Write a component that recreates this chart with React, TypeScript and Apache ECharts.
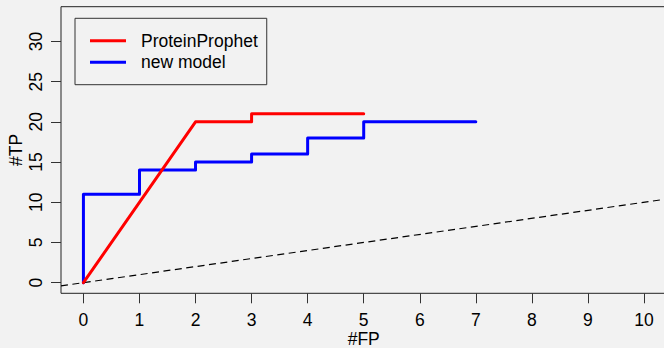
import React, { useEffect, useRef } from "react";
import * as echarts from "echarts";

const proteinProphetFP = [0, 2, 3, 3, 5];
const proteinProphetTP = [0, 20, 20, 21, 21];
const newModelFP = [0, 0, 1, 1, 2, 2, 3, 3, 4, 4, 5, 5, 7];
const newModelTP = [0, 11, 11, 14, 14, 15, 15, 16, 16, 18, 18, 20, 20];
const xTicks = [0, 1, 2, 3, 4, 5, 6, 7, 8, 9, 10];
const yTicks = [0, 5, 10, 15, 20, 25, 30];
const xLim = [0, 10];
const yLim = [0, 33];
const diagonal = [-0.4, 10.4];

const FONT = "'Liberation Sans', Arial, Helvetica, sans-serif";
const FS = 17.5;

export default function App() {
  const ref = useRef<HTMLDivElement>(null);
  useEffect(() => {
    if (!ref.current) return;
    const chart = echarts.init(ref.current, null, { renderer: "svg" });
    const padX = (xLim[1] - xLim[0]) * 0.04;
    const padY = (yLim[1] - yLim[0]) * 0.04;
    chart.setOption({
      animation: false,
      backgroundColor: "#f2f2f2",
      textStyle: { fontFamily: FONT },
      grid: {
        show: true,
        left: 61,
        top: 6.7,
        width: 605.4,
        height: 286.6,
        outerBoundsMode: "none",
        containLabel: false,
        borderColor: "#222",
        borderWidth: 1,
        backgroundColor: "transparent",
      },
      legend: {
        data: ["ProteinProphet", "new model"],
        orient: "vertical",
        left: 75,
        top: 18.3,
        icon: "rect",
        itemWidth: 36,
        itemHeight: 3,
        itemGap: 3.4,
        padding: [13.5, 9, 13.5, 15],
        borderColor: "#333",
        borderWidth: 1,
        selectedMode: false,
        textStyle: {
          fontFamily: FONT,
          fontSize: FS,
          color: "#000",
          lineHeight: 18,
          padding: [0, 0, 0, 10],
        },
      },
      xAxis: {
        type: "value",
        min: xLim[0] - padX,
        max: xLim[1] + padX,
        splitLine: { show: false },
        axisLine: { show: false, onZero: false },
        axisTick: {
          show: true,
          inside: false,
          length: 10,
          customValues: xTicks,
          lineStyle: { color: "#333", width: 1 },
        },
        axisLabel: {
          customValues: xTicks,
          margin: 18,
          fontFamily: FONT,
          fontSize: FS,
          color: "#000",
        },
        name: "#FP",
        nameLocation: "middle",
        nameGap: 37,
        nameMoveOverlap: false,
        nameTextStyle: { fontFamily: FONT, fontSize: FS, color: "#000", verticalAlign: "top" },
      },
      yAxis: {
        type: "value",
        min: yLim[0] - padY,
        max: yLim[1] + padY,
        splitLine: { show: false },
        axisLine: { show: false, onZero: false },
        axisTick: {
          show: true,
          inside: false,
          length: 10,
          customValues: yTicks,
          lineStyle: { color: "#333", width: 1 },
        },
        axisLabel: {
          customValues: yTicks,
          rotate: 90,
          margin: 16,
          fontFamily: FONT,
          fontSize: FS,
          color: "#000",
        },
        name: "#TP",
        nameLocation: "middle",
        nameRotate: 90,
        nameGap: 36,
        nameMoveOverlap: false,
        nameTextStyle: { fontFamily: FONT, fontSize: FS, color: "#000" },
      },
      series: [
        {
          name: "diagonal",
          type: "line",
          data: diagonal.map((v) => [v, v]),
          symbol: "none",
          silent: true,
          lineStyle: { color: "#000", width: 1.2, type: [7, 4.5] },
        },
        {
          name: "new model",
          type: "line",
          data: newModelFP.map((x, i) => [x, newModelTP[i]]),
          symbol: "none",
          color: "#0000ff",
          lineStyle: { color: "#0000ff", width: 3, cap: "round", join: "round" },
        },
        {
          name: "ProteinProphet",
          type: "line",
          data: proteinProphetFP.map((x, i) => [x, proteinProphetTP[i]]),
          symbol: "none",
          color: "#ff0000",
          lineStyle: { color: "#ff0000", width: 3, cap: "round", join: "round" },
        },
      ],
    });
    return () => chart.dispose();
  }, []);
  return (
    <div
      ref={ref}
      style={{ position: "fixed", left: 0, top: 0, width: 664, height: 348, background: "#f2f2f2" }}
    />
  );
}
